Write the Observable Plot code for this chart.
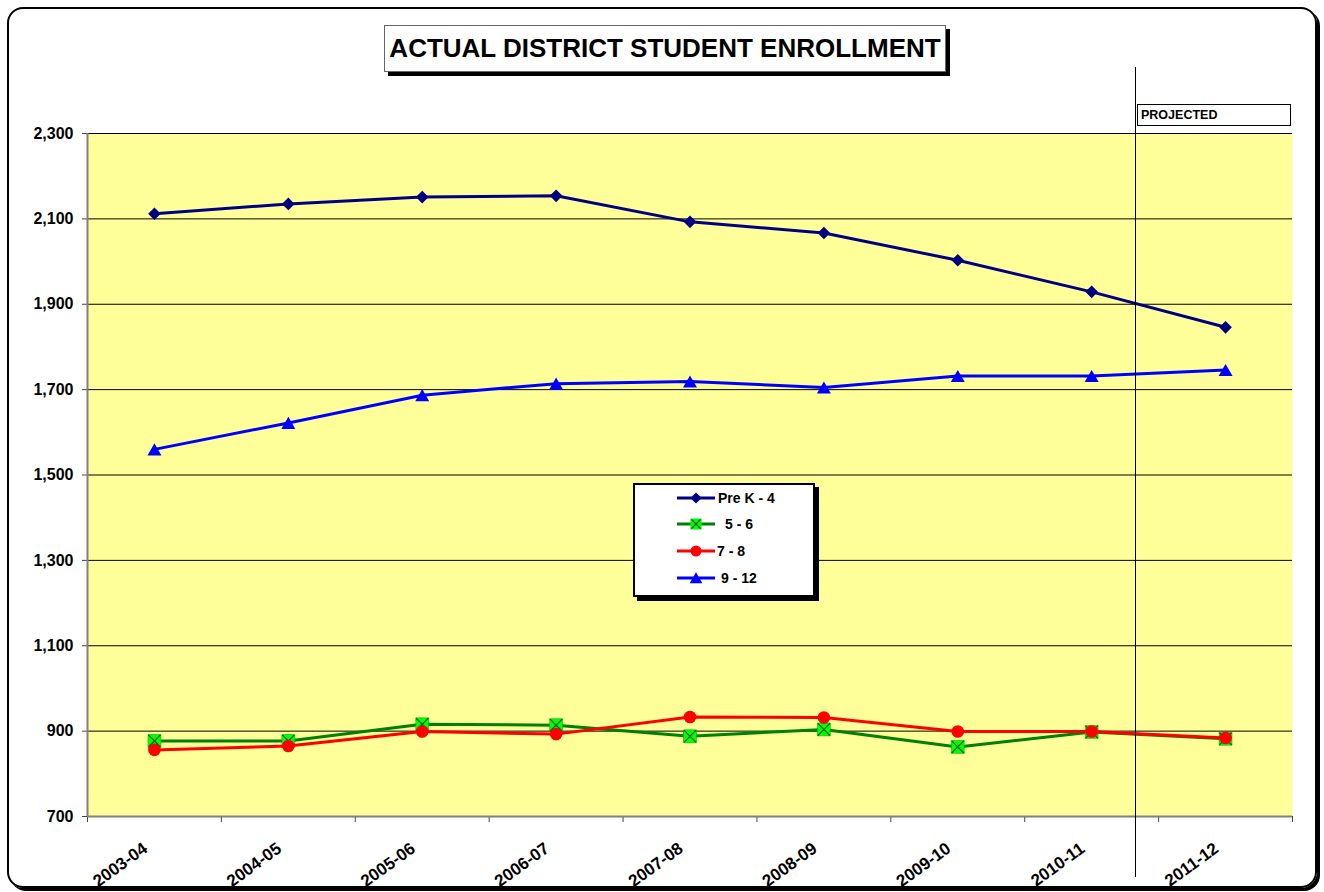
<!DOCTYPE html>
<html>
<head>
<meta charset="utf-8">
<script src="https://cdn.jsdelivr.net/npm/d3@7"></script>
<script src="https://cdn.jsdelivr.net/npm/@observablehq/plot@0.6"></script>
<style>
  html, body { margin: 0; padding: 0; background: #fff; }
  #wrap { position: relative; width: 1324px; height: 892px; font-family: "Liberation Sans", Arial, sans-serif; }
  #wrap svg.chart { position: absolute; left: 0; top: 0; }
  .border { position: absolute; left: 7px; top: 7px; width: 1306px; height: 877px; border: 2px solid #000; border-radius: 16px; box-shadow: 3px 3px 0 #000; pointer-events: none; }
  .title { position: absolute; left: 384px; top: 25px; width: 560px; height: 45px; border: 1px solid #666; background: #fff; box-shadow: 4px 4px 0 #000; font-weight: bold; font-size: 26px; line-height: 45px; text-align: center; color: #000; white-space: nowrap; }
  .projected { position: absolute; left: 1137px; top: 104px; width: 149px; height: 20px; border: 1px solid #000; background: #fff; font-weight: bold; font-size: 12.5px; line-height: 20px; padding-left: 3px; box-sizing: content-box; }
  .divider { position: absolute; left: 1135px; top: 67px; width: 1px; height: 810px; background: #000; }
  .legend { position: absolute; left: 633px; top: 483px; width: 178px; height: 110px; border: 2px solid #000; background: #fff; box-shadow: 4px 4px 0 #000; }
  .legend svg { position: absolute; left: 0; top: 0; }
</style>
</head>
<body>
<div id="wrap">
  <div class="border"></div>
</div>
<script>
// ---- data ----
const years = ["2003-04", "2004-05", "2005-06", "2006-07", "2007-08", "2008-09", "2009-10", "2010-11", "2011-12"];
const seriesNames = ["Pre K - 4", "5 - 6", "7 - 8", "9 - 12"];
const preK4 = [2112, 2135, 2151, 2154, 2093, 2067, 2003, 1929, 1846];
const grade56 = [877, 877, 916, 914, 888, 904, 863, 898, 882];
const grade78 = [856, 865, 899, 893, 933, 932, 899, 899, 884];
const grade912 = [1560, 1622, 1687, 1714, 1719, 1705, 1732, 1732, 1746];
const yTicks = [700, 900, 1100, 1300, 1500, 1700, 1900, 2100, 2300];
const titleText = "ACTUAL DISTRICT STUDENT ENROLLMENT";
const projectedText = "PROJECTED";

// ---- styling (not data) ----
const seriesValues = [preK4, grade56, grade78, grade912];
const lineColors = ["#000080", "#008000", "#ff0000", "#0000ff"];
const fmt = d3.format(",");

const rows = [];
seriesValues.forEach((vals, s) => vals.forEach((v, i) => rows.push({s, i, year: years[i], value: v})));
const of = s => rows.filter(d => d.s === s);
const xc = d => d.i + 0.5;

const marks = [
  Plot.frame({fill: "#ffff99"}),
  Plot.ruleY(yTicks, {stroke: "#000", strokeWidth: 1}),
  Plot.axisY({ticks: yTicks, tickFormat: d => fmt(d), tickSize: 5, tickPadding: 9, fontWeight: "bold", fontSize: 16, label: null, stroke: "#444", fill: "#000"}),
  Plot.axisX({ticks: d3.range(years.length + 1), tickFormat: () => "", tickSize: 6, label: null, stroke: "#444"}),
  Plot.ruleX([0], {stroke: "#808080", strokeWidth: 2}),
  Plot.ruleY([700], {stroke: "#808080", strokeWidth: 2}),
  Plot.text(years, {x: (d, i) => i + 0.5, text: d => d, frameAnchor: "bottom", rotate: -36, textAnchor: "end", lineAnchor: "middle", dy: 30, dx: -9, fontWeight: "bold", fontSize: 17, fill: "#000"}),
  // Pre K - 4
  Plot.line(of(0), {x: xc, y: "value", stroke: lineColors[0], strokeWidth: 3}),
  Plot.dot(of(0), {x: xc, y: "value", symbol: "diamond2", r: 5.7, fill: lineColors[0], stroke: "none"}),
  // 5 - 6
  Plot.line(of(1), {x: xc, y: "value", stroke: lineColors[1], strokeWidth: 3}),
  Plot.dot(of(1), {x: xc, y: "value", symbol: "square", r: 7.3, fill: "#00ff00", stroke: "#00a000", strokeWidth: 0.5}),
  Plot.dot(of(1), {x: xc, y: "value", symbol: "times", r: 5.6, stroke: "#006000", strokeWidth: 1.2}),
  // 7 - 8
  Plot.line(of(2), {x: xc, y: "value", stroke: lineColors[2], strokeWidth: 3}),
  Plot.dot(of(2), {x: xc, y: "value", symbol: "circle", r: 6.3, fill: lineColors[2], stroke: "none"}),
  // 9 - 12
  Plot.line(of(3), {x: xc, y: "value", stroke: lineColors[3], strokeWidth: 3}),
  Plot.dot(of(3), {x: xc, y: "value", symbol: "triangle", r: 5.2, dy: 2, fill: lineColors[3], stroke: "none"})
];

const chart = Plot.plot({
  width: 1324,
  height: 892,
  marginLeft: 87,
  marginRight: 32,
  marginTop: 133,
  marginBottom: 76,
  style: {background: "transparent", fontFamily: "'Liberation Sans', Arial, sans-serif", color: "#000"},
  x: {domain: [0, years.length], axis: null},
  y: {domain: [700, 2300], axis: null},
  marks
});
chart.classList.add("chart");
const wrap = document.getElementById("wrap");
wrap.insertBefore(chart, wrap.firstChild);

// divider between actual and projected
const divider = document.createElement("div");
divider.className = "divider";
wrap.appendChild(divider);

// title
const title = document.createElement("div");
title.className = "title";
title.textContent = titleText;
wrap.appendChild(title);

// projected label
const proj = document.createElement("div");
proj.className = "projected";
proj.textContent = projectedText;
wrap.appendChild(proj);

// legend
const legend = document.createElement("div");
legend.className = "legend";
const lsvg = d3.create("svg").attr("width", 178).attr("height", 110);
const rowY = [13, 39, 66, 93];
const textX = [83, 90, 82, 86];
seriesNames.forEach((name, k) => {
  const g = lsvg.append("g").attr("transform", `translate(0,${rowY[k]})`);
  g.append("line").attr("x1", 42).attr("x2", 80).attr("y1", 0).attr("y2", 0).attr("stroke", lineColors[k]).attr("stroke-width", 3);
  const cx = 61;
  if (k === 0) g.append("path").attr("d", d3.symbol(d3.symbolDiamond2, 80)()).attr("transform", `translate(${cx},0)`).attr("fill", lineColors[0]);
  if (k === 1) {
    g.append("rect").attr("x", cx - 5.5).attr("y", -5.5).attr("width", 11).attr("height", 11).attr("fill", "#00ff00");
    g.append("path").attr("d", "M-4.5,-4.5L4.5,4.5M-4.5,4.5L4.5,-4.5").attr("transform", `translate(${cx},0)`).attr("stroke", "#006000").attr("stroke-width", 1.2);
  }
  if (k === 2) g.append("circle").attr("cx", cx).attr("cy", 0).attr("r", 5.5).attr("fill", lineColors[2]);
  if (k === 3) g.append("path").attr("d", d3.symbol(d3.symbolTriangle, 70)()).attr("transform", `translate(${cx},1.5)`).attr("fill", lineColors[3]);
  g.append("text").attr("x", textX[k]).attr("y", 0).attr("dy", "0.35em").attr("font-weight", "bold").attr("font-size", 14).attr("font-family", "'Liberation Sans', Arial, sans-serif").text(name);
});
legend.appendChild(lsvg.node());
wrap.appendChild(legend);
</script>
</body>
</html>
